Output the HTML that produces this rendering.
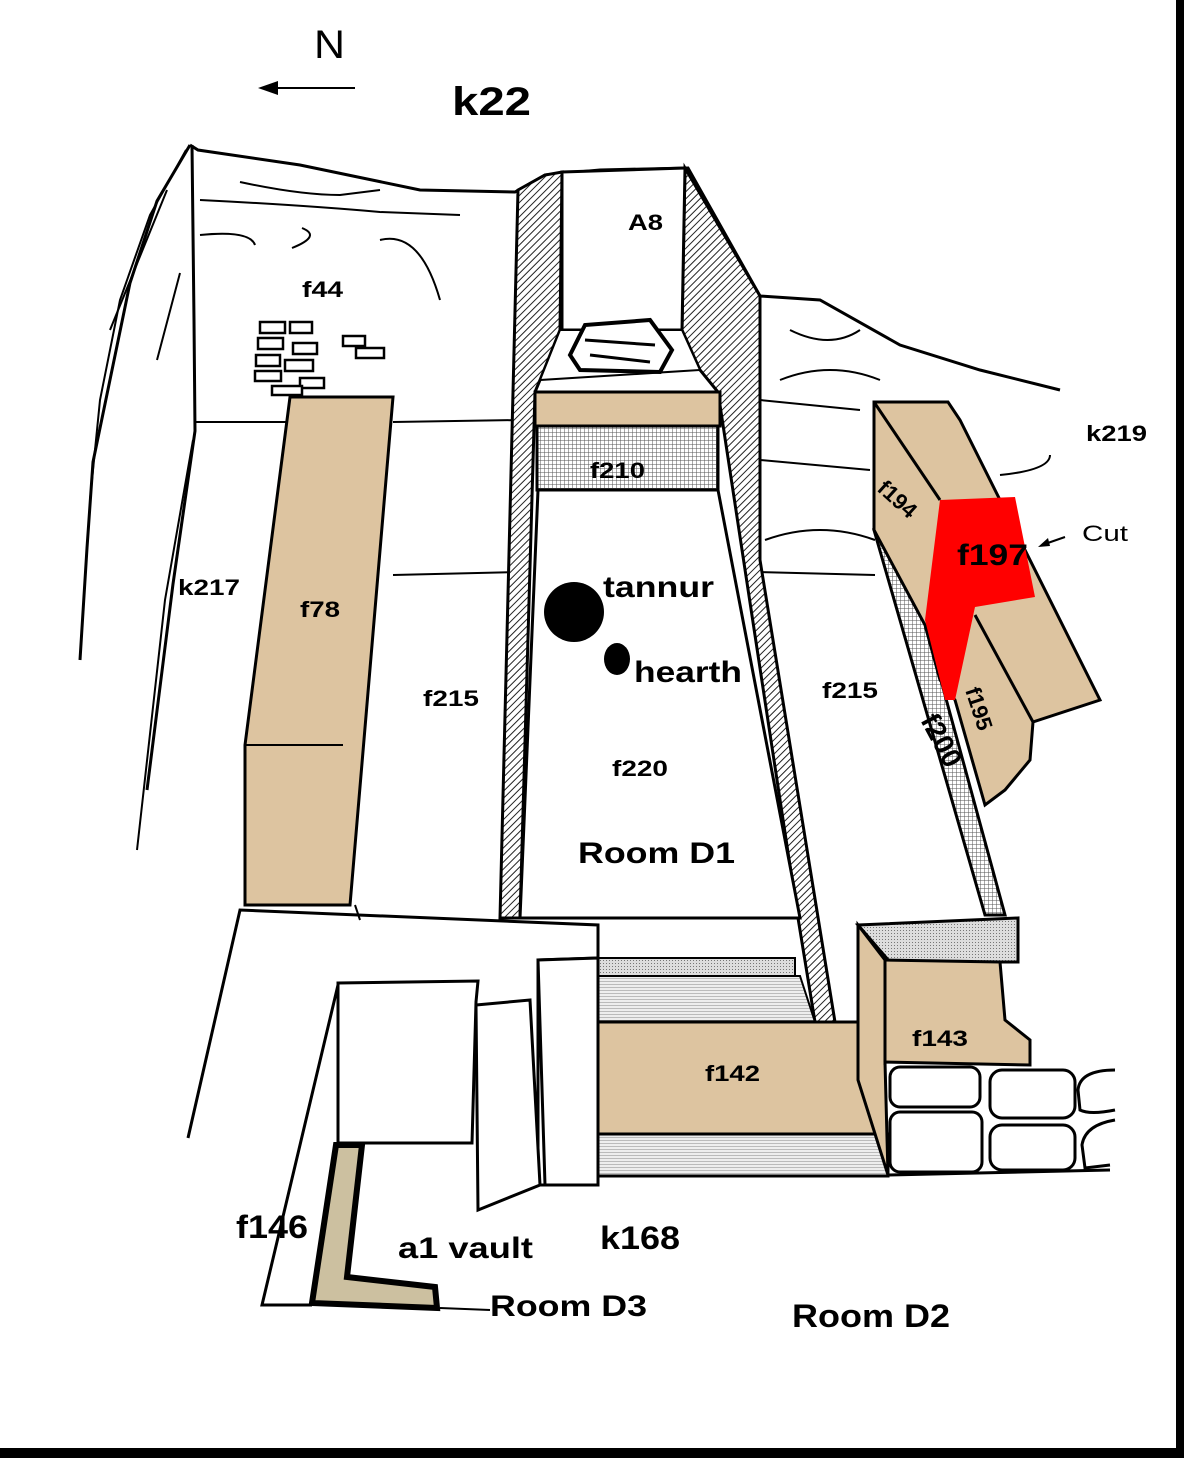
<!DOCTYPE html>
<html><head><meta charset="utf-8"><style>
html,body{margin:0;padding:0;background:#fff}
svg{display:block}
text{font-family:"Liberation Sans",Arial,sans-serif;font-weight:bold;fill:#000}
</style></head><body>
<svg width="1184" height="1458" viewBox="0 0 1184 1458" xmlns="http://www.w3.org/2000/svg">
<defs>
<pattern id="hatch" width="5" height="5" patternUnits="userSpaceOnUse" patternTransform="rotate(45)">
<rect width="5" height="5" fill="#fff"/><line x1="0" y1="0" x2="0" y2="5" stroke="#222" stroke-width="2"/></pattern>
<pattern id="grid" width="4" height="4" patternUnits="userSpaceOnUse">
<rect width="4" height="4" fill="#fff"/><path d="M0 0H4M0 0V4" stroke="#555" stroke-width="1"/></pattern>
<pattern id="gray" width="3" height="3" patternUnits="userSpaceOnUse">
<rect width="3" height="3" fill="#ddd"/><rect width="1" height="1" fill="#777"/></pattern>
<pattern id="hgray" width="4" height="3" patternUnits="userSpaceOnUse">
<rect width="4" height="3" fill="#eee"/><line x1="0" y1="0" x2="4" y2="0" stroke="#888" stroke-width="1"/></pattern>
</defs>
<rect width="1184" height="1458" fill="#fff"/>
<rect x="1176" y="0" width="8" height="1458" fill="#000"/>
<rect x="0" y="1448" width="1184" height="10" fill="#000"/>
<g fill="none" stroke="#000" stroke-width="2">
<!-- left outer lines -->
<path d="M190 145 L157 201 L130 283 L93 462 L87 548 L80 660" stroke-width="3"/>
<path d="M186 150 L150 215 L120 300 L100 400 L90 500"/>
<path d="M167 190 L110 330"/>
<path d="M192 145 L194 320 L195 431 L173 584 L147 790" stroke-width="3"/>
<path d="M180 273 L157 360"/>
<path d="M193 440 L165 600 L137 850"/>
<!-- top profile -->
<path d="M190 145 L198 150 L300 165 L420 190 L515 192 L545 175 L600 170 L688 168 L760 296 L820 300 L900 345 L980 370 L1060 390" stroke-width="3"/>
<path d="M195 422 L290 422"/>
<path d="M393 422 L520 420"/>
<path d="M240 182 Q300 195 340 195 L380 190 M200 200 Q300 205 380 212 L460 215 M200 235 Q250 230 255 245 M302 228 Q322 236 292 248 M380 240 Q420 230 440 300"/>
<path d="M760 400 L860 410 M760 460 L870 470 M765 540 Q820 520 875 540 M780 380 Q830 360 880 380 M790 330 Q830 350 860 330"/>
<path d="M1050 455 Q1050 470 1000 475"/>
<path d="M598 190 L598 215 L610 215 M570 270 L610 262 L650 265 M590 300 L650 305 M580 330 Q620 320 650 335"/>
<!-- f215 room lines -->
<path d="M393 575 L518 572"/><path d="M758 572 L875 575"/>
<path d="M355 905 L360 920"/>
</g>
<!-- bricks -->
<g fill="#fff" stroke="#000" stroke-width="2.5">
<rect x="260" y="322" width="25" height="11"/><rect x="290" y="322" width="22" height="11"/>
<rect x="258" y="338" width="25" height="11"/><rect x="293" y="343" width="24" height="11"/>
<rect x="256" y="355" width="24" height="11"/><rect x="285" y="360" width="28" height="11"/>
<rect x="255" y="371" width="26" height="10"/><rect x="300" y="378" width="24" height="10"/>
<rect x="272" y="386" width="30" height="9"/><rect x="343" y="336" width="22" height="10"/><rect x="356" y="348" width="28" height="10"/>
</g>
<!-- hatched central walls -->
<path d="M518 190 L545 175 L562 172 L560 330 L540 380 L535 392 L520 918 L500 918 Z" fill="url(#hatch)" stroke="#000" stroke-width="3"/>
<path d="M685 168 L760 296 L760 560 L835 1022 L815 1022 L798 918 L718 392 L700 370 L682 330 Z" fill="url(#hatch)" stroke="#000" stroke-width="3"/>
<path d="M562 172 L685 168 L682 330 L562 330 Z" fill="#fff" stroke="#000" stroke-width="3"/>
<path d="M540 380 L560 330 L682 330 L700 370 Z" fill="#fff" stroke="#000" stroke-width="2"/>
<path d="M570 355 L585 325 L650 320 L672 350 L660 372 L580 370 Z" fill="#fff" stroke="#000" stroke-width="4"/>
<path d="M585 340 L655 345 M590 355 L650 362" stroke="#000" stroke-width="3"/>
<path d="M520 918 L538 490 L718 490 L800 918 Z" fill="#fff" stroke="#000" stroke-width="3"/>
<rect x="535" y="392" width="185" height="34" fill="#ddc4a0" stroke="#000" stroke-width="3"/>
<rect x="537" y="426" width="181" height="64" fill="url(#grid)" stroke="#000" stroke-width="3"/>
<!-- f78 -->
<path d="M290 397 L393 397 L350 905 L245 905 L245 745 Z" fill="#ddc4a0" stroke="#000" stroke-width="3"/>
<path d="M245 745 L343 745" stroke="#000" stroke-width="2"/>
<!-- right blocks -->
<path d="M874 530 L900 530 L1005 915 L985 915 Z" fill="url(#grid)" stroke="#000" stroke-width="3"/>
<path d="M874 402 L948 402 L960 420 L1100 700 L1033 722 L1030 760 L1005 790 L985 805 L955 700 L940 680 L925 625 L874 530 Z" fill="#ddc4a0" stroke="#000" stroke-width="3"/>
<path d="M874 402 L940 500" stroke="#000" stroke-width="3"/>
<path d="M975 615 L1033 722" stroke="#000" stroke-width="3"/>
<path d="M940 500 L1015 497 L1035 597 L975 607 L955 700 L945 700 L925 620 Z" fill="#f00"/>
<!-- bottom center -->
<path d="M188 1138 L240 910 L598 925 L598 958 L538 960 L538 1185 L598 1185 L598 1175 L888 1175 L1110 1170" fill="none" stroke="#000" stroke-width="3"/>
<path d="M338 985 L262 1305 L312 1305" fill="none" stroke="#000" stroke-width="3"/>
<path d="M440 1308 L490 1310" stroke="#000" stroke-width="2"/>
<rect x="598" y="958" width="197" height="18" fill="url(#gray)" stroke="#000" stroke-width="2"/>
<path d="M598 976 L800 976 L815 1022 L598 1022 Z" fill="url(#hgray)" stroke="#000" stroke-width="2"/>
<rect x="595" y="1022" width="290" height="112" fill="#ddc4a0" stroke="#000" stroke-width="3"/>
<rect x="595" y="1134" width="293" height="42" fill="url(#hgray)" stroke="#000" stroke-width="3"/>
<path d="M338 983 L478 981 L476 1002 L472 1143 L338 1143 Z" fill="#fff" stroke="#000" stroke-width="3"/>
<path d="M476 1005 L530 1000 L540 1185 L478 1210 Z" fill="#fff" stroke="#000" stroke-width="3"/>
<path d="M538 960 L598 958 L598 1185 L545 1185 Z" fill="#fff" stroke="#000" stroke-width="3"/>
<path d="M336 1145 L362 1145 L347 1277 L435 1287 L437 1308 L312 1303 Z" fill="#ccc0a0" stroke="#000" stroke-width="6"/>
<!-- f143 -->
<path d="M858 925 L1018 918 L1018 962 L890 962 Z" fill="url(#gray)" stroke="#000" stroke-width="3"/>
<path d="M858 925 L885 960 L1000 962 L1005 1020 L1030 1040 L1030 1065 L885 1062 L888 1175 L858 1080 Z" fill="#ddc4a0" stroke="#000" stroke-width="3"/>
<path d="M885 960 L885 1065" stroke="#000" stroke-width="3"/>
<g fill="#fff" stroke="#000" stroke-width="3">
<rect x="890" y="1067" width="90" height="40" rx="10"/><rect x="990" y="1070" width="85" height="48" rx="12"/>
<rect x="890" y="1112" width="92" height="60" rx="10"/><rect x="990" y="1125" width="85" height="45" rx="12"/>
<path d="M1115 1070 Q1080 1070 1078 1090 L1080 1110 Q1090 1115 1115 1110"/>
<path d="M1115 1120 Q1085 1125 1082 1145 L1085 1168 L1110 1165"/>
</g>
<!-- tannur -->
<circle cx="574" cy="612" r="30" fill="#000"/>
<ellipse cx="617" cy="659" rx="13" ry="16" fill="#000"/>
<!-- north arrow -->
<path d="M355 88 L265 88" stroke="#000" stroke-width="2"/>
<path d="M258 88 L278 81 L278 95 Z" fill="#000"/>
<path d="M1065 537 L1042 545" stroke="#000" stroke-width="2"/><path d="M1038 547 L1048 538 L1050 546 Z" fill="#000"/>
<!-- labels -->
<text x="314" y="58" font-size="40" style="font-weight:normal" textLength="31" lengthAdjust="spacingAndGlyphs">N</text>
<text x="452" y="115" font-size="40" textLength="79" lengthAdjust="spacingAndGlyphs">k22</text>
<text x="628" y="230" font-size="22" textLength="35" lengthAdjust="spacingAndGlyphs">A8</text>
<text x="302" y="297" font-size="22" textLength="41" lengthAdjust="spacingAndGlyphs">f44</text>
<text x="1086" y="441" font-size="22" textLength="61" lengthAdjust="spacingAndGlyphs">k219</text>
<text x="590" y="478" font-size="22" textLength="55" lengthAdjust="spacingAndGlyphs">f210</text>
<text x="1082" y="541" font-size="22" style="font-weight:normal" textLength="46" lengthAdjust="spacingAndGlyphs">Cut</text>
<text x="957" y="565" font-size="30" textLength="71" lengthAdjust="spacingAndGlyphs">f197</text>
<text x="178" y="595" font-size="22" textLength="62" lengthAdjust="spacingAndGlyphs">k217</text>
<text x="300" y="617" font-size="22" textLength="40" lengthAdjust="spacingAndGlyphs">f78</text>
<text x="603" y="597" font-size="30" textLength="111" lengthAdjust="spacingAndGlyphs">tannur</text>
<text x="634" y="682" font-size="30" textLength="108" lengthAdjust="spacingAndGlyphs">hearth</text>
<text x="423" y="706" font-size="22" textLength="56" lengthAdjust="spacingAndGlyphs">f215</text>
<text x="822" y="698" font-size="22" textLength="56" lengthAdjust="spacingAndGlyphs">f215</text>
<text x="612" y="776" font-size="22" textLength="56" lengthAdjust="spacingAndGlyphs">f220</text>
<text x="578" y="863" font-size="30" textLength="157" lengthAdjust="spacingAndGlyphs">Room D1</text>
<text x="912" y="1046" font-size="22" textLength="56" lengthAdjust="spacingAndGlyphs">f143</text>
<text x="705" y="1081" font-size="22" textLength="55" lengthAdjust="spacingAndGlyphs">f142</text>
<text x="236" y="1238" font-size="32" textLength="72" lengthAdjust="spacingAndGlyphs">f146</text>
<text x="398" y="1258" font-size="30" textLength="135" lengthAdjust="spacingAndGlyphs">a1 vault</text>
<text x="600" y="1249" font-size="32" textLength="80" lengthAdjust="spacingAndGlyphs">k168</text>
<text x="490" y="1316" font-size="30" textLength="157" lengthAdjust="spacingAndGlyphs">Room D3</text>
<text x="792" y="1327" font-size="32" textLength="158" lengthAdjust="spacingAndGlyphs">Room D2</text>
<text transform="translate(876 490) rotate(42)" font-size="22">f194</text>
<text transform="translate(965 690) rotate(72)" font-size="22">f195</text>
<text transform="translate(920 720) rotate(62)" font-size="28">f200</text>
</svg>
</body></html>
